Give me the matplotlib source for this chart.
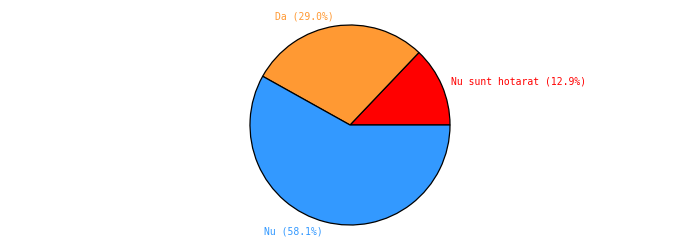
import matplotlib
matplotlib.use('Agg')
import matplotlib.pyplot as plt

labels = ['Nu sunt hotarat', 'Da', 'Nu']
values = [12.9, 29.0, 58.1]
colors = ['#FF0000', '#FF9933', '#3399FF']

fig = plt.figure(figsize=(7, 2.5), dpi=100)
ax = fig.add_axes([250 / 700, 25 / 250, 200 / 700, 200 / 250])

texts = ['{} ({:.1f}%)'.format(l, v) for l, v in zip(labels, values)]
wedges, label_texts = ax.pie(values, labels=texts, colors=colors, startangle=0,
                             counterclock=True, labeldistance=1.1,
                             wedgeprops={'edgecolor': 'black', 'linewidth': 0.9},
                             textprops={'family': 'DejaVu Sans Mono', 'fontsize': 7.0})
for t, c in zip(label_texts, colors):
    t.set_color(c)
    t.set_clip_on(False)

ax.set_xlim(-1, 1)
ax.set_ylim(-1, 1)
ax.set_aspect('equal')
ax.axis('off')

fig.savefig('out.png', dpi=100)
